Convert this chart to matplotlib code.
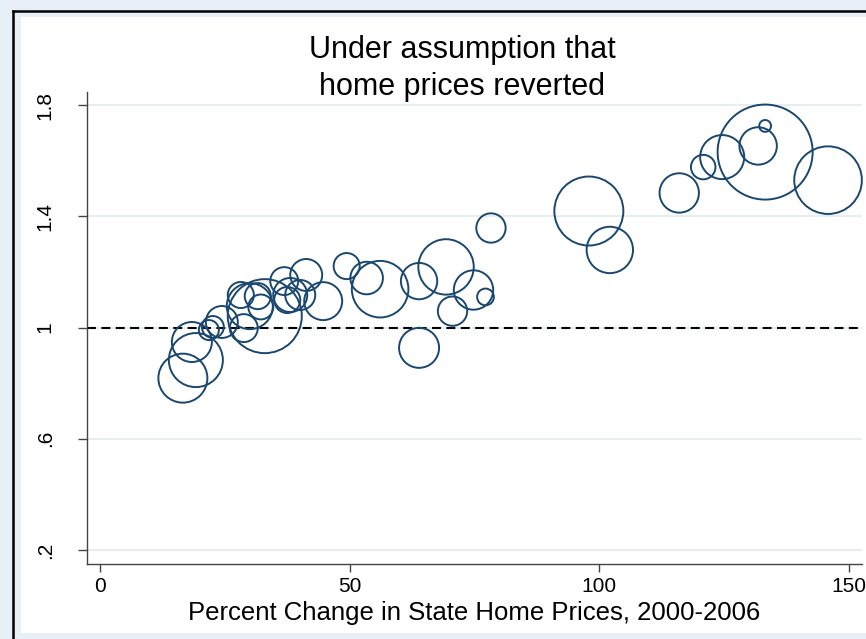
import matplotlib
matplotlib.use("Agg")
import matplotlib.pyplot as plt
from matplotlib.patches import Rectangle
from matplotlib.lines import Line2D
import numpy as np

plt.rcParams['font.family'] = ['Liberation Sans', 'DejaVu Sans']

# Data: percent change in home prices (x), ratio (y), bubble weight
pct_change = [16.6, 19.2, 18.4, 21.8, 22.6, 24.4, 28.2, 28.8, 30.0, 33.0,
              32.2, 31.6, 36.9, 38.1, 37.5, 40.1, 41.3, 44.7,
              49.4, 53.4, 56.1, 63.9, 63.9, 69.3, 70.6, 74.8, 77.2, 78.3,
              97.9, 102.1, 116.0, 120.8, 124.6, 131.8, 133.2, 133.2, 145.8]
ratio = [0.818, 0.883, 0.948, 0.991, 1.002, 1.020, 1.117, 0.998, 1.077, 1.041,
         1.074, 1.113, 1.167, 1.117, 1.099, 1.117, 1.189, 1.095,
         1.221, 1.178, 1.138, 1.167, 0.927, 1.218, 1.059, 1.135, 1.110, 1.358,
         1.419, 1.279, 1.484, 1.577, 1.613, 1.653, 1.631, 1.725, 1.530]
weight = [24.0, 29.2, 16.0, 4.0, 4.8, 10.2, 6.8, 7.8, 21.2, 54.8,
          6.2, 6.8, 7.8, 11.6, 6.8, 9.0, 10.2, 14.4,
          6.8, 10.6, 32.0, 13.2, 16.0, 30.7, 8.6, 15.5, 2.8, 8.6,
          47.6, 21.5, 15.5, 6.0, 19.4, 14.0, 90.3, 1.4, 45.7]

yticks = [0.2, 0.6, 1.0, 1.4, 1.8]
ytick_labels = ['.2', '.6', '1', '1.4', '1.8']
xticks = [0, 50, 100, 150]
xtick_labels = ['0', '50', '100', '150']

W, H = 866, 639
fig = plt.figure(figsize=(W / 100, H / 100), dpi=100)
fig.patch.set_facecolor('#E9EFF7')

# white inner region and black frame
fig.patches.append(Rectangle((21 / W, 1 - 633 / H), (W - 21) / W, (633 - 17) / H,
                             transform=fig.transFigure, facecolor='white',
                             edgecolor='none', zorder=-5))
fig.add_artist(Line2D([13 / W, 13 / W], [0, 1 - 11 / H], transform=fig.transFigure,
                      color='black', lw=1.8, zorder=-4))
fig.add_artist(Line2D([13 / W, 1], [1 - 11 / H, 1 - 11 / H], transform=fig.transFigure,
                      color='black', lw=1.8, zorder=-4))

ax = fig.add_axes([87 / W, (H - 564) / H, (862 - 87) / W, (564 - 92) / H])
ax.set_zorder(2)
ax.set_facecolor('none')
ax.set_xlim(-2.6, 152.6)
ax.set_ylim(0.1497, 1.847)

for s in ['top', 'right']:
    ax.spines[s].set_visible(False)
for s in ['left', 'bottom']:
    ax.spines[s].set_color('#444444')
    ax.spines[s].set_linewidth(1.0)

ax.set_yticks(yticks)
ax.set_yticklabels(ytick_labels, rotation=90, va='center')
ax.set_xticks(xticks)
ax.set_xticklabels(xtick_labels)
ax.tick_params(axis='y', length=6.3, width=1.0, color='#444444', labelsize=15, pad=17)
ax.tick_params(axis='x', length=5.6, width=1.0, color='#444444', labelsize=15, pad=4)

ax.grid(axis='y', color='#E6EEF2', lw=1.5)
ax.set_axisbelow(True)

ax.axhline(1.0, color='black', lw=1.5, dashes=(4.3, 2.6), zorder=2)

sizes = np.array(weight) * 51.84
ax.scatter(pct_change, ratio, s=sizes, facecolors='none', edgecolors='#1A476F',
           linewidths=1.4, zorder=3, clip_on=False)

fig.text(462 / W, 1 - 58 / H, 'Under assumption that', ha='center', va='baseline',
         fontsize=22)
fig.text(462 / W, 1 - 95 / H, 'home prices reverted', ha='center', va='baseline',
         fontsize=22)
fig.text(474 / W, 1 - 620 / H, 'Percent Change in State Home Prices, 2000-2006',
         ha='center', va='baseline', fontsize=18.5)

fig.savefig('out.png', dpi=100, facecolor=fig.get_facecolor())
